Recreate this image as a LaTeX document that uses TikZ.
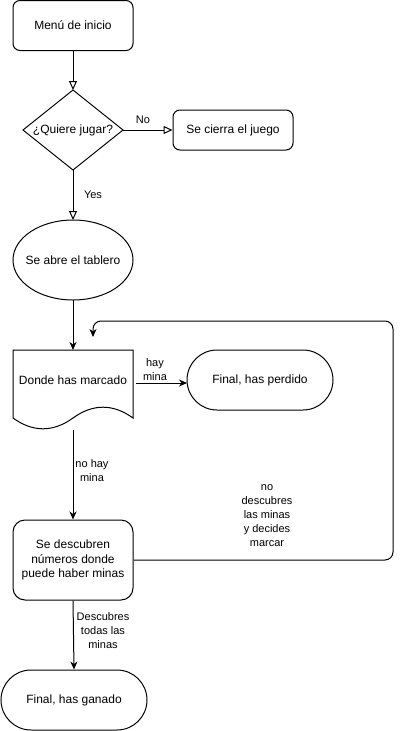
\documentclass[tikz,border=0pt]{standalone}
\usepackage{fontspec}
\setmainfont{Liberation Sans}
\usetikzlibrary{arrows.meta,shapes.geometric}
\begin{document}
\begin{tikzpicture}[x=1pt,y=-1pt,
  every node/.style={font=\fontsize{12}{14.5}\selectfont, align=center, inner sep=0pt},
  box/.style={draw, line width=1pt, minimum width=120pt, minimum height=50pt, rounded corners=7pt},
  stadium/.style={draw, line width=1pt, minimum width=146pt, minimum height=60pt, rounded corners=30pt},
  lbl/.style={font=\fontsize{11}{14}\selectfont, align=center},
  openarr/.style={draw, line width=1pt, -{Triangle[open, length=9pt, width=8pt, fill=white]}},
  arr/.style={draw, line width=1pt, -{Stealth[length=8pt, width=7pt, inset=2.5pt]}},
  shapeline/.style={draw, line width=1pt}
]
\useasboundingbox (0,0) rectangle (402,731);

% nodes
\node[box] (start) at (73,25.5) {Menú de inicio};
\node (q) at (73,130) {¿Quiere jugar?};
\coordinate (qN) at (73,90);
\coordinate (qE) at (123,130);
\coordinate (qS) at (73,170);
\coordinate (qW) at (23,130);
\path[shapeline] (qN) -- (qE) -- (qS) -- (qW) -- cycle;
\node[box, minimum height=40pt] (cierra) at (233,130) {Se cierra el juego};

\node (tab) at (73,260) {Se abre el tablero};
\coordinate (tabN) at (73,220);
\coordinate (tabS) at (73,300);
\path[shapeline] (73,260) ellipse [x radius=60, y radius=40];

\node (doc) at (73,380) {Donde has marcado};
\coordinate (docN) at (73,350);
\coordinate (docS) at (73,430);
\path[shapeline] (13,418) -- (13,350) -- (133,350) -- (133,418)
  .. controls (113,403.6) and (93,403.6) .. (73,418)
  .. controls (53,432.4) and (33,432.4) .. (13,418) -- cycle;

\node[stadium] (lost) at (260,380) {Final, has perdido};
\node[box, minimum height=80pt, rounded corners=12pt] (disc) at (73,560) {Se descubren\\números donde\\puede haber minas};
\node[stadium] (won) at (74,700) {Final, has ganado};

% connectors
\path[openarr] (start.south) -- (qN);
\path[openarr] (qE) -- (cierra.west);
\node[lbl] (lno) at (143,120) {No};
\path[openarr] (qS) -- (tabN);
\node[lbl] (lyes) at (93,195) {Yes};
\path[arr] (tabS) -- (docN);

\coordinate (docE) at (136,383);
\coordinate (lostW) at (187,383);
\path[arr] (docE) -- (lostW);
\node[lbl] (lhay) at (155,370) {hay\\mina};

\path[arr] (docS) -- (disc.north);
\node[lbl] (lnohay) at (92,471) {no hay\\mina};

\coordinate (loopend) at (93,337);
\path[arr, rounded corners=8pt] (disc.east) -- (393,560) -- (393,321) -- (93,321) -- (loopend);
\node[lbl] (lloop) at (267,516) {no\\descubres\\las minas\\y decides\\marcar};

\path[arr] (disc.south) -- (won.north);
\node[lbl] (ltodas) at (103,631) {Descubres\\todas las\\minas};
\end{tikzpicture}
\end{document}
